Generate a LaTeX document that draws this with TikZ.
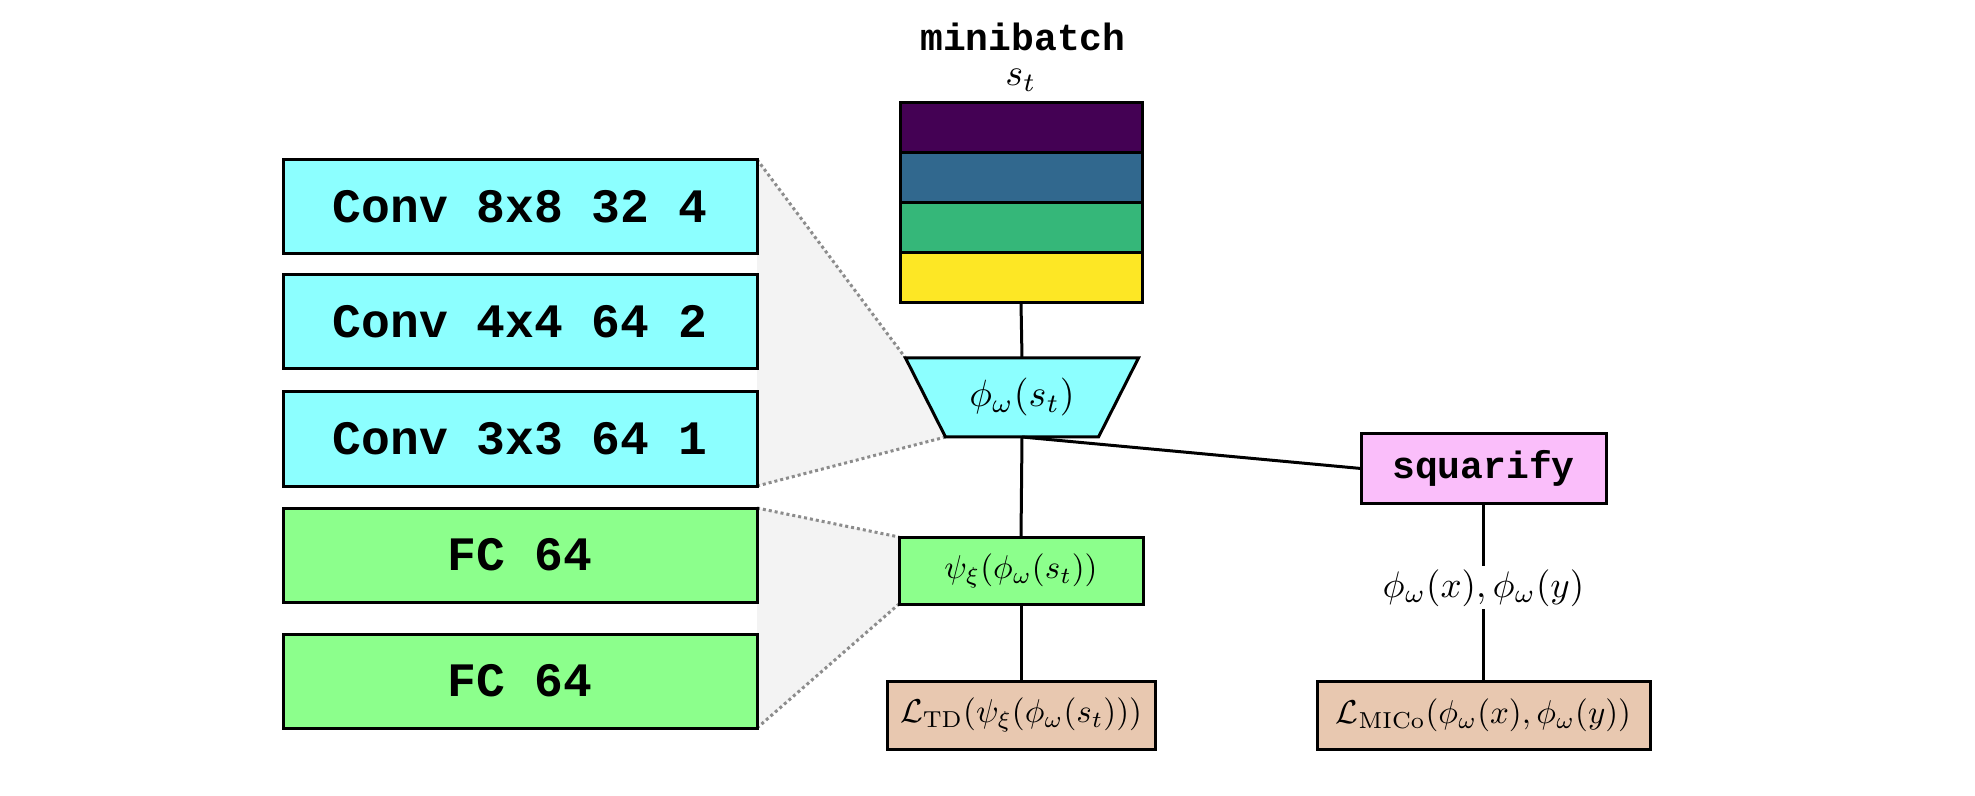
\documentclass[tikz,border=0pt]{standalone}
\usepackage{fontspec}
\newfontfamily\monob{Liberation Mono}
\usetikzlibrary{backgrounds}
\definecolor{cyanbox}{RGB}{140,255,255}
\definecolor{greenbox}{RGB}{140,255,140}
\definecolor{pinkbox}{RGB}{250,190,250}
\definecolor{peach}{RGB}{232,200,176}
\definecolor{vpurple}{HTML}{440154}
\definecolor{vblue}{HTML}{31688E}
\definecolor{vgreen}{HTML}{35B779}
\definecolor{vyellow}{HTML}{FDE725}
\definecolor{shade}{RGB}{243,243,243}
\definecolor{dotgray}{RGB}{140,140,140}
\newcommand{\mathLarge}[1]{\scalebox{1.9}{$#1$}}
\newcommand{\mathSmall}[1]{\scalebox{1.65}{$#1$}}
\newcommand{\mathMid}[1]{\scalebox{1.85}{$#1$}}
\tikzset{
  box/.style={draw=black, line width=1.5pt, inner sep=0pt, outer sep=0pt},
  layer/.style={box, minimum width=237pt, minimum height=47pt,
    font=\monob\bfseries\fontsize{24}{28}\selectfont},
  conv/.style={layer, fill=cyanbox},
  fc/.style={layer, fill=greenbox},
  band/.style={box, minimum width=121pt, minimum height=25pt},
  link/.style={line width=1.5pt},
  zoomline/.style={draw=dotgray, line width=1.5pt, dash pattern=on 1.5pt off 1.5pt},
  zoomfill/.style={fill=shade},
  codelabel/.style={font=\monob\bfseries\fontsize{19}{23}\selectfont, inner sep=0pt},
}
\begin{document}
\begin{tikzpicture}[x=0.5pt, y=-0.5pt]
\useasboundingbox (0,0) rectangle (1975,796);

% left layer boxes
\node[conv] (c1) at (520,206.5) {Conv 8x8 32 4};
\node[conv] (c2) at (520,322) {Conv 4x4 64 2};
\node[conv] (c3) at (520,439) {Conv 3x3 64 1};
\node[fc]   (f1) at (520,555) {FC 64};
\node[fc]   (f2) at (520,681) {FC 64};

% minibatch
\node[codelabel] (mb) at (1023,37) {minibatch};
\node[inner sep=0pt] (st) at (1021,80) {\mathLarge{s_t}};
\node[band, fill=vpurple] (b1) at (1021,128) {};
\node[band, fill=vblue]   (b2) at (1021,178) {};
\node[band, fill=vgreen]  (b3) at (1021,228) {};
\node[band, fill=vyellow] (b4) at (1021,278) {};

% encoder trapezoid
\node[inner sep=0pt, outer sep=0pt, minimum width=116.5pt, minimum height=39.5pt] (phi) at (1022,397.5) {\mathLarge{\phi_\omega(s_t)}};
\coordinate (phibl) at ([xshift=20pt]phi.south west);
\coordinate (phibr) at ([xshift=-20pt]phi.south east);

% heads
\node[box, fill=greenbox, minimum width=122pt, minimum height=33.5pt] (psi) at (1021,570.5) {\mathSmall{\psi_\xi(\phi_\omega(s_t))}};
\node[box, fill=peach, minimum width=134pt, minimum height=34pt] (td) at (1021,715) {\mathSmall{\mathcal{L}_{\mathrm{TD}}(\psi_\xi(\phi_\omega(s_t)))}};
\node[box, fill=pinkbox, codelabel, minimum width=122.5pt, minimum height=34.5pt] (sq) at (1483.5,468.5) {squarify};
\node[box, fill=peach, minimum width=166.5pt, minimum height=34pt] (mico) at (1483.5,715) {\mathSmall{\mathcal{L}_{\mathrm{MICo}}(\phi_\omega(x),\phi_\omega(y))}};

\begin{pgfonlayer}{background}
  \fill[zoomfill] (c1.north east) -- (phi.north west) -- (phibl) -- (c3.south east) -- cycle;
  \fill[zoomfill] (f1.north east) -- (psi.north west) -- (psi.south west) -- (f2.south east) -- cycle;
  \draw[zoomline] (c1.north east) -- (phi.north west);
  \draw[zoomline] (c3.south east) -- (phibl);
  \draw[zoomline] (f1.north east) -- (psi.north west);
  \draw[zoomline] (f2.south east) -- (psi.south west);
  \filldraw[fill=cyanbox, draw=black, line width=1.5pt, line join=miter]
    (phi.north west) -- (phi.north east) -- (phibr) -- (phibl) -- cycle;
\end{pgfonlayer}

% connectors
\draw[link] (b4.south) -- (phi.north);
\draw[link] (phi.south) -- (psi.north);
\draw[link] (psi.south) -- (td.north);
\draw[link] (phi.south) -- (sq.west);
\draw[link] (sq.south) -- node[pos=0.477, fill=white, inner sep=1.5pt] (lbl) {\mathMid{\phi_\omega(x),\phi_\omega(y)}} (mico.north);
\end{tikzpicture}
\end{document}
